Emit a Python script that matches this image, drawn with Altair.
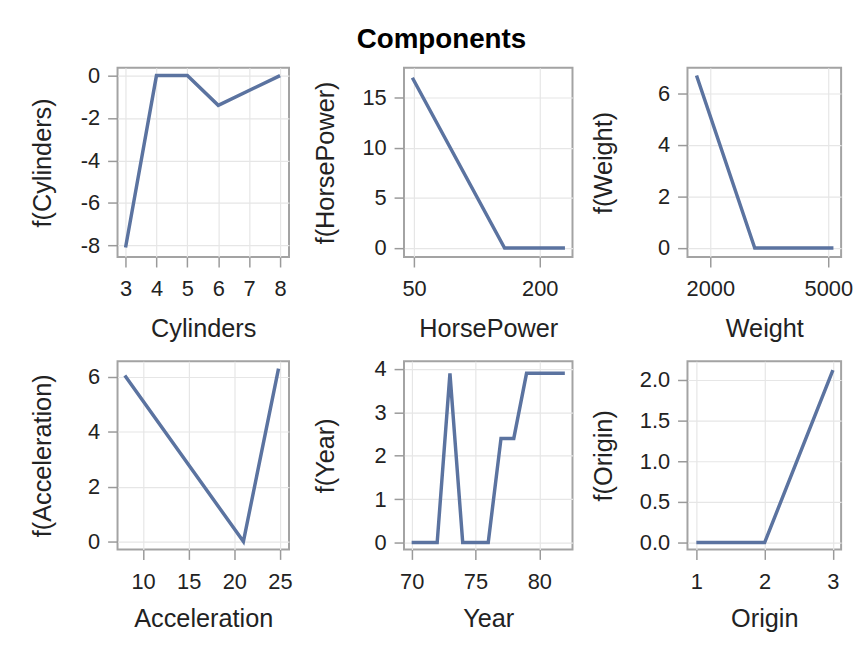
import altair as alt
import pandas as pd

# ---- data ----
cyl_x = [3, 4, 5, 6, 8]
cyl_y = [-8.1, 0.0, 0.0, -1.4, 0.0]

hp_x = [48, 158, 230]
hp_y = [17.0, 0.0, 0.0]

wt_x = [1650, 3130, 5130]
wt_y = [6.7, 0.0, 0.0]

acc_x = [8.0, 21.0, 24.85]
acc_y = [6.05, 0.0, 6.3]

year_x = [70, 71, 72, 73, 74, 75, 76, 77, 78, 79, 80, 81, 82]
year_y = [0, 0, 0, 3.9, 0, 0, 0, 2.4, 2.4, 3.9, 3.9, 3.9, 3.9]

orig_x = [1, 2, 3]
orig_y = [0.0, 0.0, 2.12]

LINE = "#5b73a0"
FONT = "Liberation Sans"

NEG_LABEL = "datum.value < 0 ? '-' + format(-datum.value, 'd') : format(datum.value, 'd')"


def panel(xs, ys, name, xdom, ydom, xticks, yticks, width, height, tpad, xtpad, yfmt=None):
    df = pd.DataFrame({"x": xs, "y": ys})
    yaxis_kw = dict(values=yticks, title=f"f({name})", titlePadding=tpad)
    if yfmt:
        yaxis_kw["format"] = yfmt
    else:
        yaxis_kw["labelExpr"] = NEG_LABEL
    return (
        alt.Chart(df)
        .mark_line(color=LINE, strokeWidth=3.5, clip=True)
        .encode(
            x=alt.X("x:Q", scale=alt.Scale(domain=xdom, nice=False, zero=False),
                    axis=alt.Axis(values=xticks, title=name, format="d",
                                  titlePadding=xtpad)),
            y=alt.Y("y:Q", scale=alt.Scale(domain=ydom, nice=False, zero=False),
                    axis=alt.Axis(**yaxis_kw)),
        )
        .properties(width=width, height=height)
    )


charts = [
    panel(cyl_x, cyl_y, "Cylinders", [2.74, 8.29], [-8.55, 0.37],
          [3, 4, 5, 6, 7, 8], [-8, -6, -4, -2, 0], 173, 191, 25, 16),
    panel(hp_x, hp_y, "HorsePower", [38, 239], [-0.9, 18],
          [50, 200], [0, 5, 10, 15], 170, 191, 28, 16),
    panel(wt_x, wt_y, "Weight", [1420, 5325], [-0.35, 7.0],
          [2000, 5000], [0, 2, 4, 6], 155, 191, 34, 16),
    panel(acc_x, acc_y, "Acceleration", [7.2, 26.0], [-0.29, 6.57],
          [10, 15, 20, 25], [0, 2, 4, 6], 173, 190, 25, 14),
    panel(year_x, year_y, "Year", [69.4, 82.6], [-0.16, 4.18],
          [70, 75, 80], [0, 1, 2, 3, 4], 170, 190, 28, 14),
    panel(orig_x, orig_y, "Origin", [0.87, 3.12], [-0.085, 2.23],
          [1, 2, 3], [0, 0.5, 1.0, 1.5, 2.0], 155, 190, 34, 14, yfmt=".1f"),
]

chart = (
    alt.concat(*charts, columns=3, align="each", bounds="flush",
               spacing={"row": 105, "column": 116})
    .properties(
        title=alt.TitleParams("Components", fontSize=28, fontWeight="bold",
                              font=FONT, color="#000", anchor="middle", offset=10),
        padding={"left": 21.5, "top": 14.5, "right": 0, "bottom": 0},
    )
    .configure_view(stroke="#a3a3a3", strokeWidth=2)
    .configure_axis(
        labelFont=FONT, titleFont=FONT, labelFontSize=22, titleFontSize=25.5,
        titleFontWeight="normal", labelColor="#222", titleColor="#222",
        domain=False, tickColor="#9a9a9a", tickSize=10, tickWidth=1.5,
        gridColor="#e6e6e6", gridWidth=1.2,
    )
    .configure_axisY(minExtent=38, maxExtent=38, labelPadding=8)
    .configure_axisX(minExtent=44, maxExtent=44, labelPadding=12)
)

chart.save("out.html", embed_options={"renderer": "svg", "actions": False})
